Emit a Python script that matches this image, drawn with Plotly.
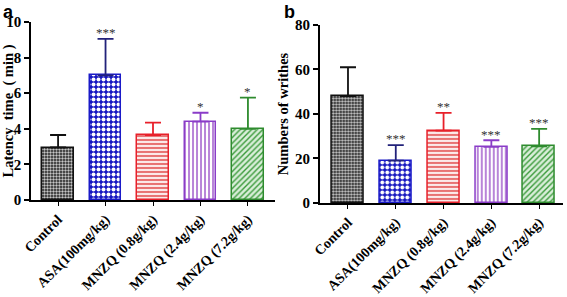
import plotly.graph_objects as go

categories = ["Control", "ASA(100mg/kg)", "MNZQ (0.8g/kg)", "MNZQ (2.4g/kg)", "MNZQ (7.2g/kg)"]
latency_mean = [2.95, 7.0, 3.65, 4.4, 4.0]
latency_sd = [0.7, 2.05, 0.7, 0.5, 1.75]
latency_sig = ["", "***", "", "*", "*"]
writhes_mean = [48.0, 19.0, 32.5, 25.2, 25.5]
writhes_sd = [13.0, 7.0, 8.0, 3.0, 7.8]
writhes_sig = ["", "***", "**", "***", "***"]

outline = ["#111111", "#1a1ac8", "#e8202a", "#8a3cc8", "#2e8b2e"]
err_col = ["#111111", "#22227a", "#e8202a", "#8a3cc8", "#2e8b2e"]
pat_shape = [".", ".", "-", "|", "/"]
pat_bg = ["#1a1a1a", "#1515c0", "#fbeaea", "#ffffff", "#d9eed9"]
pat_fg = ["#c8c8c8", "#ffffff", "#e04040", "#9a50c8", "#3a9a3a"]
pat_size = [3, 5, 4, 4, 4]
pat_sol = [0.5, 0.5, 0.35, 0.35, 0.35]

serif = "Liberation Serif"
fig = go.Figure()

def add_panel(means, sds, sig, xa, ya, off):
    for i, c in enumerate(categories):
        fig.add_trace(go.Bar(
            x=[i], y=[means[i]], width=0.67, xaxis=xa, yaxis=ya, showlegend=False,
            marker=dict(color=pat_bg[i], line=dict(color=outline[i], width=1.5),
                        pattern=dict(shape=pat_shape[i], bgcolor=pat_bg[i], fgcolor=pat_fg[i],
                                     size=pat_size[i], solidity=pat_sol[i], fillmode="replace")),
            error_y=dict(type="data", array=[sds[i]], arrayminus=[0], symmetric=False,
                         color=err_col[i], thickness=1.8, width=8),
        ))
        if sig[i]:
            fig.add_annotation(x=i, y=means[i] + sds[i] + off, xref=xa.replace("axis", ""),
                               yref=ya.replace("axis", ""), text=sig[i], showarrow=False,
                               font=dict(family=serif, size=13, color="#333333"), yanchor="middle")

add_panel(latency_mean, latency_sd, latency_sig, "x", "y", 0.35)
add_panel(writhes_mean, writhes_sd, writhes_sig, "x2", "y2", 2.8)

xcommon = dict(tickmode="array", tickvals=list(range(5)), ticktext=categories, tickangle=-45,
               tickfont=dict(family=serif, size=14, color="black", weight="bold"),
               showline=True, linecolor="black", linewidth=1.5, ticks="outside", ticklen=4,
               tickcolor="black", tickwidth=1.2, showgrid=False, zeroline=False, automargin=False)
ycommon = dict(tickfont=dict(family=serif, size=15, color="black", weight="bold"),
               showline=True, linecolor="black", linewidth=1.5, ticks="outside", ticklen=5,
               tickcolor="black", tickwidth=1.5, showgrid=False, zeroline=False, automargin=False)

fig.update_layout(
    width=567, height=297, margin=dict(l=0, r=0, t=0, b=0, autoexpand=False),
    plot_bgcolor="white", paper_bgcolor="white", bargap=0,
    xaxis=dict(domain=[0.0547, 0.485], range=[-0.57, 4.57], anchor="y", **xcommon),
    yaxis=dict(domain=[0.3266, 0.926], range=[0, 10], dtick=2, anchor="x",
               title=dict(text="Latency\u00a0\u00a0time\u00a0\u00a0(\u00a0min\u00a0)", standoff=3,
                          font=dict(family=serif, size=14.5, color="black", weight="bold")), **ycommon),
    xaxis2=dict(domain=[0.564, 0.993], range=[-0.59, 4.5], anchor="y2", **xcommon),
    yaxis2=dict(domain=[0.3165, 0.916], range=[0, 80], dtick=20, anchor="x2",
                title=dict(text="Numbers of writhes", standoff=3,
                           font=dict(family=serif, size=14.5, color="black", weight="bold")), **ycommon),
)
fig.add_annotation(x=0.002, y=1.0, xref="paper", yref="paper", text="<b>a</b>", showarrow=False,
                   xanchor="left", yanchor="top", font=dict(family="Liberation Sans", size=18, color="black"))
fig.add_annotation(x=0.497, y=1.0, xref="paper", yref="paper", text="<b>b</b>", showarrow=False,
                   xanchor="left", yanchor="top", font=dict(family="Liberation Sans", size=18, color="black"))

fig.write_html("out.html", config={"displayModeBar": False},
               post_script="document.body.style.margin='0px';document.body.style.overflow='hidden';")
